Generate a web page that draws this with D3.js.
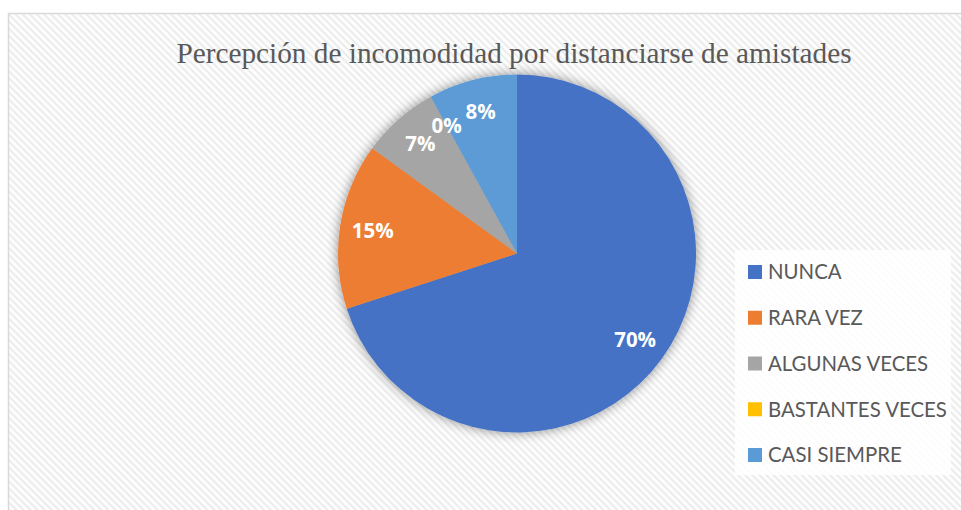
<!DOCTYPE html>
<html><head><meta charset="utf-8">
<script src="https://cdn.jsdelivr.net/npm/d3@7"></script>
<style>html,body{margin:0;padding:0;background:#fff;}svg{display:block;}</style>
</head><body>
<svg id="chart" width="961" height="510"></svg>
<script>
const categories = ["NUNCA", "RARA VEZ", "ALGUNAS VECES", "BASTANTES VECES", "CASI SIEMPRE"];
const values = [70, 15, 7, 0, 8];
const valueLabels = ["70%", "15%", "7%", "0%", "8%"];
const colors = ["#4472C4", "#ED7D31", "#A5A5A5", "#FFC000", "#5B9BD5"];
const title = "Percepción de incomodidad por distanciarse de amistades";

const svg = d3.select("#chart");
const defs = svg.append("defs");
const pat = defs.append("pattern").attr("id","hatch").attr("patternUnits","userSpaceOnUse")
  .attr("width",5).attr("height",5).attr("patternTransform","rotate(-45)");
pat.append("rect").attr("width",5).attr("height",5).attr("fill","#fdfdfd");
pat.append("rect").attr("width",2).attr("height",5).attr("fill","#ececec");
const f = defs.append("filter").attr("id","shadow").attr("x","-20%").attr("y","-20%").attr("width","140%").attr("height","140%");
f.append("feGaussianBlur").attr("in","SourceAlpha").attr("stdDeviation",6).attr("result","b");
f.append("feOffset").attr("in","b").attr("dx",0).attr("dy",0).attr("result","o");
f.append("feComponentTransfer").attr("in","o").attr("result","s")
  .append("feFuncA").attr("type","linear").attr("slope",0.45);
const m = f.append("feMerge");
m.append("feMergeNode").attr("in","s");
m.append("feMergeNode").attr("in","SourceGraphic");

svg.append("rect").attr("x",8.5).attr("y",13.5).attr("width",960).attr("height",510)
  .attr("fill","url(#hatch)").attr("stroke","#d9d9d9").attr("stroke-width",1.5);

svg.append("text").attr("x",514).attr("y",63).attr("text-anchor","middle")
  .attr("font-family","'Liberation Serif','Times New Roman',serif").attr("font-size",29.3)
  .attr("fill","#595959").text(title);

const cx = 517, cy = 253.5, r = 179;
const pie = d3.pie().sort(null).value(d => d)(values);
const arc = d3.arc().innerRadius(0).outerRadius(r);
const g = svg.append("g").attr("transform",`translate(${cx},${cy})`);
const sg = g.append("g").attr("filter","url(#shadow)");
sg.selectAll("path").data(pie).join("path").attr("d",arc).attr("fill",(d,i)=>colors[i]);

const labelArc = d3.arc().innerRadius(146).outerRadius(146);
g.selectAll("text.lbl").data(pie).join("text").attr("class","lbl")
  .attr("transform",d=>{const c=labelArc.centroid(d);return `translate(${c[0]},${c[1]})`;})
  .attr("text-anchor","middle").attr("dy","0.35em")
  .attr("font-family","'Open Sans',sans-serif").attr("font-weight","bold").attr("font-size",20.5)
  .attr("fill","#fff").text((d,i)=>valueLabels[i]);

svg.append("rect").attr("x",735).attr("y",250).attr("width",216).attr("height",225).attr("fill","#ffffff").attr("opacity",0.85);
const y = d3.scalePoint().domain(categories).range([272, 455]);
const leg = svg.append("g").selectAll("g").data(categories).join("g")
  .attr("transform",d=>`translate(748,${y(d)})`);
leg.append("rect").attr("x",0).attr("y",-7).attr("width",14).attr("height",14).attr("fill",(d,i)=>colors[i]);
leg.append("text").attr("x",20).attr("dy","0.36em").attr("font-family","Lato,'Open Sans',sans-serif")
  .attr("font-size",20.4).attr("fill","#595959").text(d=>d);
</script>
</body></html>
